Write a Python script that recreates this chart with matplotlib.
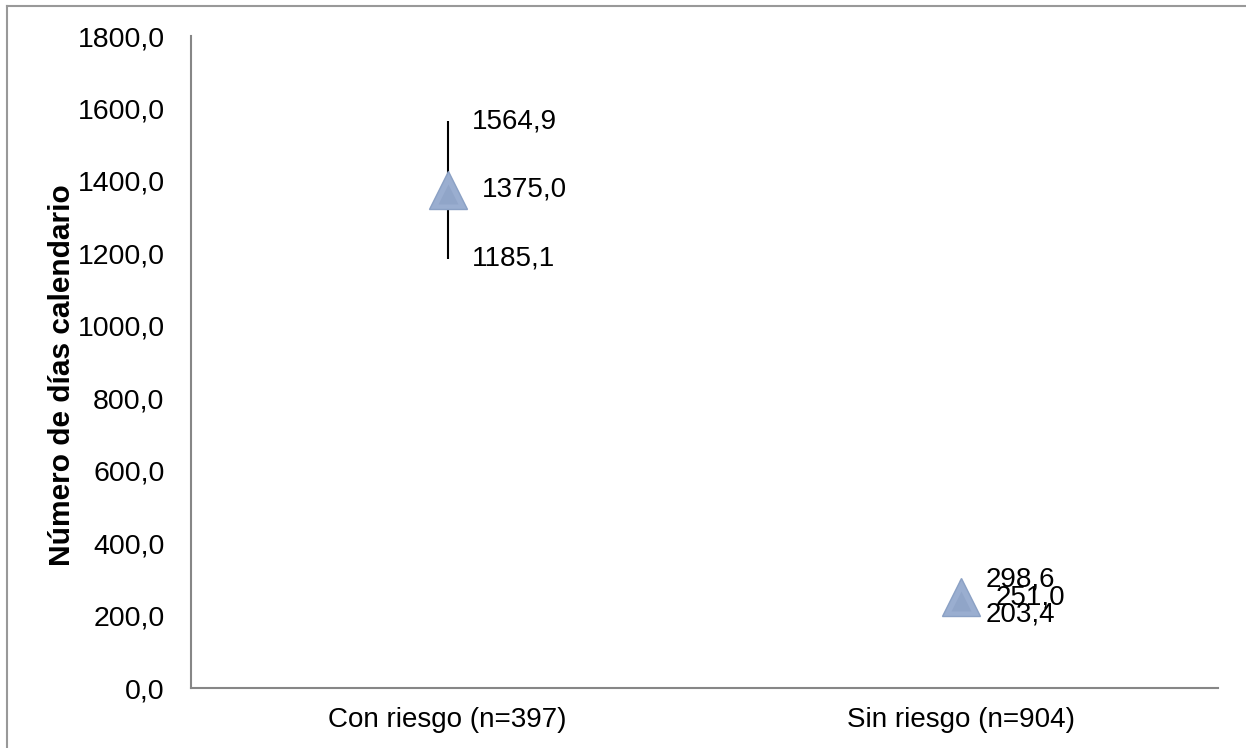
import matplotlib.pyplot as plt
from matplotlib.lines import Line2D

plt.rcParams['font.family'] = ['Liberation Sans', 'DejaVu Sans']

# datos
categorias = ["Con riesgo (n=397)", "Sin riesgo (n=904)"]
media = [1375.0, 251.0]
inferior = [1185.1, 203.4]
superior = [1564.9, 298.6]
yticks = [0, 200, 400, 600, 800, 1000, 1200, 1400, 1600, 1800]

FS = 20


def coma(v):
    return f"{v:.1f}".replace(".", ",")


fig = plt.figure(figsize=(12.46, 7.48), dpi=100)
ax = fig.add_axes([191 / 1246, 1 - 688 / 748, 1027 / 1246, 652 / 748])

x = list(range(len(categorias)))
ax.vlines(x, inferior, superior, color="black", lw=1.5, zorder=2)
ax.plot(x, media, linestyle="none", marker="^", ms=27,
        mfc="#9AAED0", mec="#8AA0C4", mew=1.0, zorder=3)
ax.plot(x, [m - 10 for m in media], linestyle="none", marker="^", ms=14,
        mfc="#7F95BA", mec="none", alpha=0.35, zorder=4)

for xi, m, lo, up in zip(x, media, inferior, superior):
    ax.annotate(coma(up), (xi, up), xytext=(17.3, 0), textcoords="offset points",
                va="center", ha="left", fontsize=FS)
    ax.annotate(coma(m), (xi, m), xytext=(24.5, 0), textcoords="offset points",
                va="center", ha="left", fontsize=FS)
    ax.annotate(coma(lo), (xi, lo), xytext=(17.3, 0), textcoords="offset points",
                va="center", ha="left", fontsize=FS)

ax.set_xlim(-0.5, 1.5)
ax.set_ylim(0, 1800)
ax.set_xticks(x)
ax.set_xticklabels(categorias, fontsize=FS)
ax.set_yticks(yticks)
ax.set_yticklabels([coma(v) for v in yticks], fontsize=20.5)
ax.tick_params(axis="y", length=0, pad=19)
ax.tick_params(axis="x", length=0, pad=14)
ax.set_ylabel("Número de días calendario", fontsize=21.5, fontweight="bold", labelpad=0)
ax.yaxis.set_label_coords(-0.112, 0.48)

for s in ["top", "right"]:
    ax.spines[s].set_visible(False)
for s in ["left", "bottom"]:
    ax.spines[s].set_color("#868686")
    ax.spines[s].set_linewidth(1.5)

# marco exterior
fig.add_artist(Line2D([7 / 1246, 7 / 1246], [0, 1 - 6 / 748], color="#999999", lw=1.5))
fig.add_artist(Line2D([7 / 1246, 1], [1 - 6 / 748, 1 - 6 / 748], color="#999999", lw=1.5))

fig.savefig("out.png", dpi=100)
